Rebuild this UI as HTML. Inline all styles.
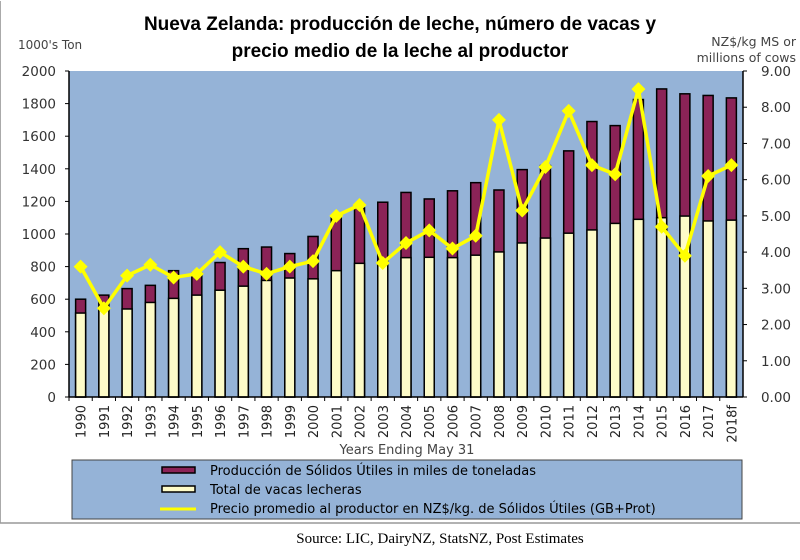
<!DOCTYPE html>
<html><head><meta charset="utf-8"><style>
body{margin:0;background:#fff;width:800px;height:555px;overflow:hidden;font-family:"Liberation Sans",sans-serif}
</style></head><body>
<svg id="c" width="800" height="555" xmlns="http://www.w3.org/2000/svg">
<line x1="0" y1="1" x2="0" y2="523" stroke="#aaa" stroke-width="2"/>
<text x="400" y="30" text-anchor="middle" font-size="19" font-weight="bold" fill="#000">Nueva Zelanda: producción de leche, número de vacas y</text>
<text x="400" y="57" text-anchor="middle" font-size="19" font-weight="bold" fill="#000">precio medio de la leche al productor</text>
<text x="18" y="49" font-size="12" font-family="DejaVu Sans, sans-serif" fill="#444">1000's Ton</text>
<text x="796" y="46" text-anchor="end" font-size="12.5" font-family="DejaVu Sans, sans-serif" fill="#444">NZ$/kg MS or</text>
<text x="796" y="62" text-anchor="end" font-size="12.5" font-family="DejaVu Sans, sans-serif" fill="#444">millions of cows</text>
<rect x="69" y="71" width="674" height="326" fill="#95b3d7"/>
<g id="bars"></g><g id="line"></g><g id="axes"></g>
<text x="407" y="454" text-anchor="middle" font-size="13" font-family="DejaVu Sans, sans-serif" fill="#444">Years Ending May 31</text>
<rect x="72" y="460" width="670" height="59" fill="#95b3d7" stroke="#444"/>
<g><rect x="162" y="467" width="33" height="6" fill="#8b2357" stroke="#000" stroke-width="1.5"/><text x="210" y="475" font-size="13" font-family="DejaVu Sans, sans-serif" fill="#000">Producción de Sólidos Útiles  in miles de toneladas</text></g>
<g><rect x="162" y="486" width="33" height="6" fill="#fdfbc8" stroke="#000" stroke-width="1.5"/><text x="210" y="494" font-size="13" font-family="DejaVu Sans, sans-serif" fill="#000">Total de vacas lecheras</text></g>
<g><line x1="160" y1="509" x2="196" y2="509" stroke="#ffff00" stroke-width="3"/><text x="210" y="513" font-size="13" font-family="DejaVu Sans, sans-serif" fill="#000">Precio promedio al productor en NZ$/kg. de Sólidos Útiles (GB+Prot)</text></g>
<line x1="0" y1="523" x2="800" y2="523" stroke="#999" stroke-width="1.5"/>
<text x="440" y="543" text-anchor="middle" font-size="15" font-family="Liberation Serif, serif" fill="#000">Source: LIC, DairyNZ, StatsNZ, Post Estimates</text>
</svg>
<script>
const years=["1990","1991","1992","1993","1994","1995","1996","1997","1998","1999","2000","2001","2002","2003","2004","2005","2006","2007","2008","2009","2010","2011","2012","2013","2014","2015","2016","2017","2018f"];
const production=[600,625,665,685,775,760,825,910,920,880,985,1110,1160,1195,1255,1215,1265,1315,1270,1395,1420,1510,1690,1665,1825,1890,1860,1850,1835];
const cows=[515,540,540,580,605,625,655,680,715,730,725,775,820,810,855,857,855,870,890,945,975,1005,1025,1065,1090,1100,1110,1080,1085];
const price=[3.6,2.45,3.35,3.65,3.3,3.4,4.0,3.6,3.4,3.6,3.75,5.0,5.3,3.7,4.25,4.6,4.1,4.45,7.65,5.15,6.35,7.9,6.4,6.15,8.5,4.7,3.9,6.1,6.4];
const leftTicks=[0,200,400,600,800,1000,1200,1400,1600,1800,2000];
const rightTicks=["0.00","1.00","2.00","3.00","4.00","5.00","6.00","7.00","8.00","9.00"];
const NS="http://www.w3.org/2000/svg";
const X0=69,X1=743,Y0=397,Y1=71,bw=(X1-X0)/years.length;
const xc=i=>X0+bw*(i+0.5);
const yL=v=>Y0-(v/2000)*(Y0-Y1);
const yR=v=>Y0-(v/9)*(Y0-Y1);
const F="DejaVu Sans, sans-serif";
function mk(t,a,p){const e=document.createElementNS(NS,t);for(const k in a)e.setAttribute(k,a[k]);p.appendChild(e);return e;}
const gb=document.getElementById('bars'),gl=document.getElementById('line'),ga=document.getElementById('axes');
years.forEach((y,i)=>{
 const w=10,x=xc(i)-w/2;
 const p=mk('rect',{x:x,y:yL(production[i]),width:w,height:Y0-yL(production[i]),fill:'#8b2357',stroke:'#000','stroke-width':1.5},gb);
 
 
 const c=mk('rect',{x:x,y:yL(cows[i]),width:w,height:Y0-yL(cows[i]),fill:'#fdfbc8',stroke:'#000','stroke-width':1.5},gb);
 
 
 const t=mk('text',{x:0,y:0,'font-size':13,'font-family':F,fill:'#222','text-anchor':'end',transform:`translate(${xc(i)+5},${Y0+8}) rotate(-90)`},ga);
 t.textContent=y;
 
 
 mk('line',{x1:X0+bw*i,y1:Y0,x2:X0+bw*i,y2:Y0+4,stroke:'#000'},ga);
});
const pl=mk('polyline',{points:price.map((v,i)=>xc(i)+','+yR(v)).join(' '),fill:'none',stroke:'#ffff00','stroke-width':3.5},gl);


price.forEach((v,i)=>{const cx=xc(i),cy=yR(v),s=7;
 const d=mk('polygon',{points:`${cx},${cy-s} ${cx+s},${cy} ${cx},${cy+s} ${cx-s},${cy}`,fill:'#ffff00'},gl);
 
 
});
mk('line',{x1:X0,y1:Y1,x2:X0,y2:Y0,stroke:'#000','stroke-width':1.5},ga);
mk('line',{x1:X1,y1:Y1,x2:X1,y2:Y0,stroke:'#000','stroke-width':1.5},ga);
mk('line',{x1:X0,y1:Y0,x2:X1,y2:Y0,stroke:'#000','stroke-width':1.5},ga);
leftTicks.forEach(v=>{mk('line',{x1:X0-4,y1:yL(v),x2:X0,y2:yL(v),stroke:'#000'},ga);
 const t=mk('text',{x:56,y:yL(v)+5,'font-size':13.5,'font-family':F,fill:'#333','text-anchor':'end'},ga);t.textContent=v;
 
 });
rightTicks.forEach((s,i)=>{mk('line',{x1:X1,y1:yR(i),x2:X1+4,y2:yR(i),stroke:'#000'},ga);
 const t=mk('text',{x:791,y:yR(i)+5,'font-size':13.5,'font-family':F,fill:'#333','text-anchor':'end'},ga);t.textContent=s;
 
 });
</script>
</body></html>
